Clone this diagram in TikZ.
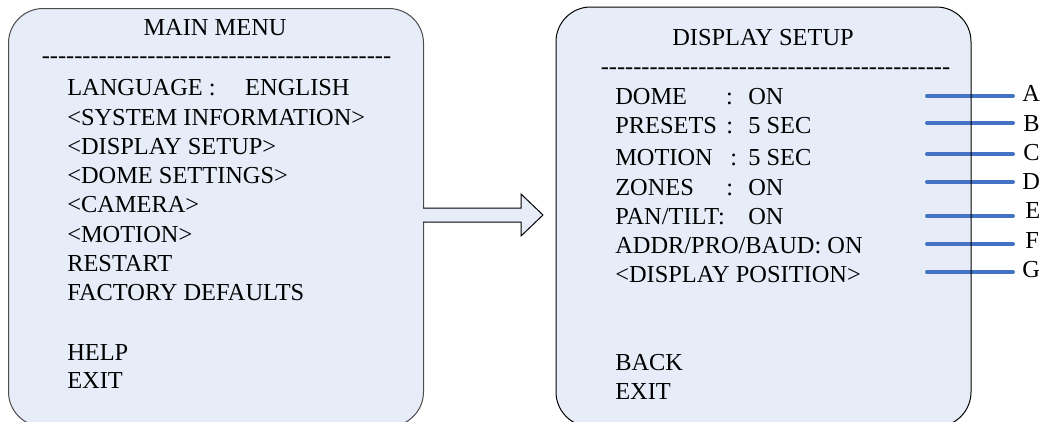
\documentclass[tikz,border=0pt]{standalone}
\usepackage{fontspec}
\setmainfont{Liberation Serif}
\usepackage{xcolor}
\usetikzlibrary{positioning}

\definecolor{boxfill}{HTML}{E6EDF8}
\definecolor{lineblue}{HTML}{4472C4}
% row of single hyphens (no ligatures)
\newcommand{\dashrow}{\foreach \k in {1,...,43}{-\kern0pt}}
% key, separator and value in columns
\newcommand{\kv}[3]{\makebox[83.25pt][l]{#1}\makebox[16.5pt][l]{#2}#3}

\begin{document}
\begin{tikzpicture}[x=0.75pt,y=-0.75pt,
      menubox/.style={
         draw,
         fill=boxfill,
         rounded corners=26pt,
         line width=0.75pt,
         anchor=north west,
         inner sep=0pt},
      menuitem/.style={anchor=base west, inner sep=0pt, font=\fontsize{18.3}{22}\selectfont},
      menutitle/.style={anchor=base, inner sep=0pt, font=\fontsize{18.3}{22}\selectfont},
      myline/.style={lineblue, line width=3pt, line cap=round}
      ]
\useasboundingbox (0,0) rectangle (1045,421);
\clip (0,0) rectangle (1045,421);

\node[menubox,draw=black!70,minimum width=311.25pt,minimum height=313.5pt] (mainmenu) at (8,8) {};
\node[menubox,draw=none,minimum width=310.5pt,minimum height=314pt] (dispsetup) at (556,7) {};

% main menu
\node[menutitle] (mtitle) at (215,35) {MAIN MENU};
\node[menutitle] (mdash) at (216.5,63.5) {\dashrow};
\foreach \t/\y [count=\i] in {%
      {\makebox[133.5pt][l]{LANGUAGE :}ENGLISH}/95,
      {<SYSTEM INFORMATION>}/125,
      {<DISPLAY SETUP>}/154,
      {<DOME SETTINGS>}/183,
      {<CAMERA>}/212,
      {<MOTION>}/242,
      {RESTART}/271,
      {FACTORY DEFAULTS}/300,
      {HELP}/360,
      {EXIT}/388}
   \node[menuitem] (m\i) at (67,\y) {\t};

% display setup
\node[menutitle] (dtitle) at (763,45) {DISPLAY SETUP};
\node[menutitle] (ddash) at (775.5,74.5) {\dashrow};
\node[menuitem] (dome)    at (615,104) {\kv{DOME}{:}{ON}};
\node[menuitem] (presets) at (615,133) {\kv{PRESETS}{:}{5 SEC}};
\node[menuitem] (motion)  at (615,165) {\kv{MOTION}{\,:}{5 SEC}};
\node[menuitem] (zones)   at (615,195) {\kv{ZONES}{:}{ON}};
\node[menuitem] (pantilt) at (615,224) {\kv{PAN/TILT:}{}{ON}};
\node[menuitem] (addr)    at (615,253) {ADDR/PRO/BAUD: ON};
\node[menuitem] (dpos)    at (615,282) {<DISPLAY POSITION>};
\node[menuitem] (back)    at (615,370) {BACK};
\node[menuitem] (dexit)   at (615,399) {EXIT};

% block arrow between the menus
\draw[fill=boxfill, line width=0.75pt]
   (423,208) -- (521,208) -- (521,194) -- (543,215) -- (521,236) -- (521,222) -- (423,222);

% callout lines
\foreach \l/\ly/\lx/\lb in {% label/line y/label x/label baseline
      A/96/1022/101.7, B/123/1023/131.7, C/154/1023/160, D/182/1022/189,
      E/216/1025/218, F/244/1025/248, G/272/1022/277}{
   \node[menuitem] (lab\l) at (\lx,\lb) {\l};
   \coordinate (s\l) at (927,\ly);
   \coordinate (e\l) at (1013,\ly);
   \draw[myline] (s\l) -- (e\l);
}
% box edge over the callout lines
\draw[line width=0.75pt, rounded corners=26pt] (dispsetup.north west) rectangle (dispsetup.south east);

\end{tikzpicture}
\end{document}
